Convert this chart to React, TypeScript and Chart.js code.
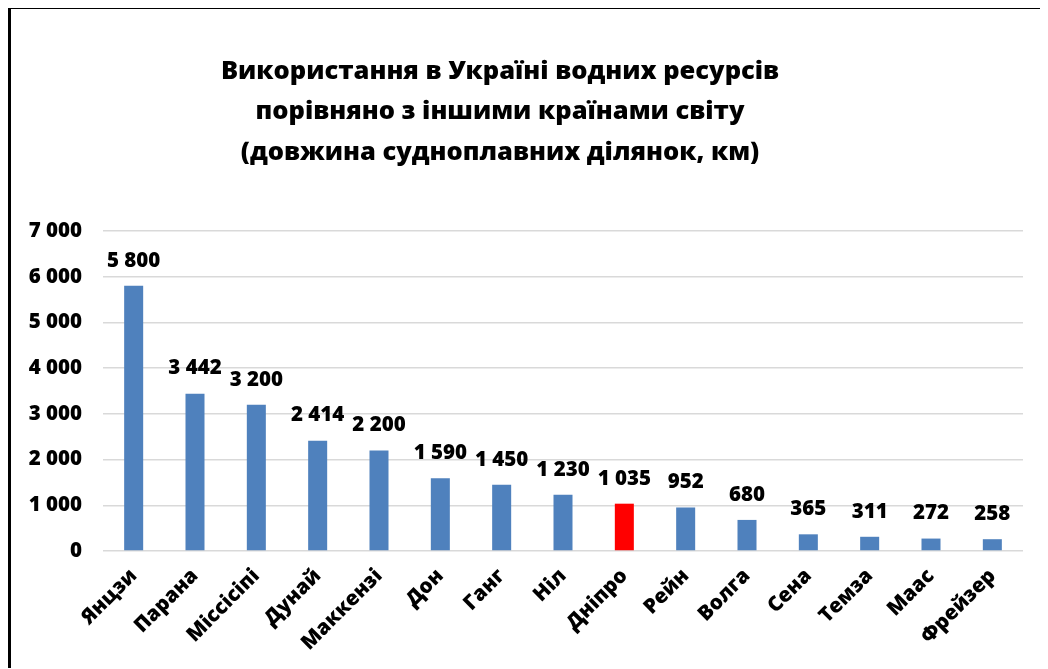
import React, { useEffect, useRef } from "react";
import { Chart, registerables } from "chart.js";

Chart.register(...registerables);

const categories = [
  "Янцзи", "Парана", "Міссісіпі", "Дунай", "Маккензі", "Дон", "Ганг", "Ніл",
  "Дніпро", "Рейн", "Волга", "Сена", "Темза", "Маас", "Фрейзер",
];
const lengths = [5800, 3442, 3200, 2414, 2200, 1590, 1450, 1230, 1035, 952, 680, 365, 311, 272, 258];
const highlight = "Дніпро";
const titleLines = [
  "Використання в Україні водних ресурсів",
  "порівняно з іншими країнами світу",
  "(довжина судноплавних ділянок, км)",
];
const yTicks = [0, 1000, 2000, 3000, 4000, 5000, 6000, 7000];

const FONT = "'Open Sans', sans-serif";
const fmt = (v: number) => {
  const s = String(Math.round(v));
  return s.replace(/\B(?=(\d{3})+(?!\d))/g, " ");
};

const titlePlugin = {
  id: "customTitle",
  afterDraw(chart: any) {
    const ctx = chart.ctx;
    ctx.save();
    ctx.fillStyle = "#000";
    ctx.font = `800 25.5px ${FONT}`;
    ctx.textAlign = "center";
    ctx.textBaseline = "alphabetic";
    const baselines = [70, 110, 151];
    titleLines.forEach((t, i) => ctx.fillText(t, 489, baselines[i]));
    ctx.restore();
  },
};

const labelPlugin = {
  id: "valueLabels",
  afterDatasetsDraw(chart: any) {
    const ctx = chart.ctx;
    const meta = chart.getDatasetMeta(0);
    ctx.save();
    ctx.fillStyle = "#000";
    ctx.font = `800 20.5px ${FONT}`;
    ctx.textAlign = "center";
    ctx.textBaseline = "middle";
    meta.data.forEach((bar: any, i: number) => {
      ctx.fillText(fmt(lengths[i]), bar.x, bar.y - 25);
    });
    ctx.restore();
  },
};

export default function App() {
  const ref = useRef<HTMLCanvasElement>(null);
  useEffect(() => {
    if (!ref.current) return;
    document.body.style.overflow = "hidden";
    const chart = new Chart(ref.current, {
      type: "bar",
      data: {
        labels: categories,
        datasets: [
          {
            data: lengths,
            backgroundColor: categories.map((c) => (c === highlight ? "#FF0000" : "#4F81BD")),
            categoryPercentage: 1,
            barPercentage: 0.31,
          },
        ],
      },
      options: {
        responsive: false,
        animation: false,
        layout: { padding: { top: 222, right: 25, left: 0, bottom: 0 } },
        plugins: { legend: { display: false }, tooltip: { enabled: false }, title: { display: false } },
        scales: {
          x: {
            grid: { display: false, drawTicks: false },
            border: { display: false },
            ticks: {
              color: "#000",
              font: { family: FONT, size: 20.5, weight: "800" },
              minRotation: 45,
              maxRotation: 45,
              autoSkip: false,
              padding: 13,
            },
            afterFit(scale: any) {
              scale.height = 117;
            },
          },
          y: {
            min: 0,
            max: 7000,
            afterBuildTicks(scale: any) {
              scale.ticks = yTicks.map((v) => ({ value: v }));
            },
            grid: { color: "#D9D9D9", lineWidth: 1.5, drawTicks: false },
            border: { display: false },
            ticks: {
              color: "#000",
              font: { family: FONT, size: 20.5, weight: "800" },
              padding: 21,
              callback: (v: any) => fmt(Number(v)),
            },
            afterFit(scale: any) {
              scale.width = 92;
            },
          },
        },
      },
      plugins: [titlePlugin, labelPlugin],
    });
    return () => chart.destroy();
  }, []);
  return (
    <div
      style={{
        position: "relative",
        width: 1040,
        height: 661,
        marginTop: -1,
        borderLeft: "3px solid #000",
        borderTop: "2px solid #000",
        boxSizing: "border-box",
        background: "#fff",
      }}
    >
      <canvas ref={ref} width={1037} height={659} style={{ display: "block" }} />
    </div>
  );
}
